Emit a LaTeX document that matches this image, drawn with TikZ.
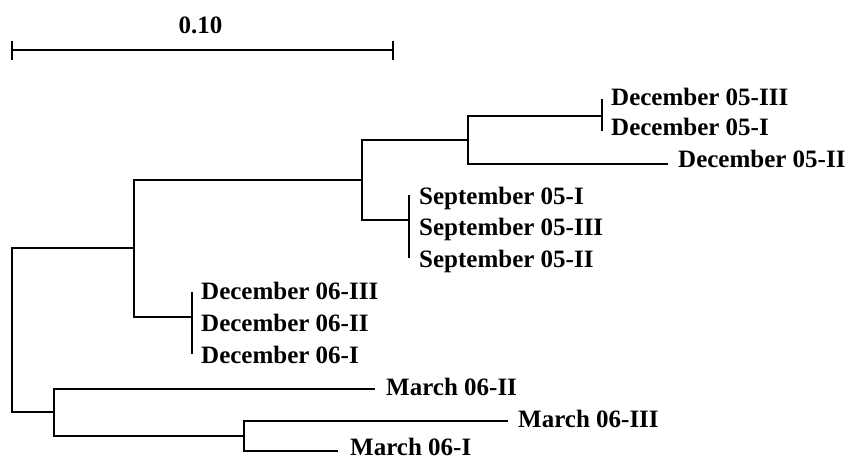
\documentclass[tikz,border=0pt]{standalone}
\usepackage{fontspec}
\setmainfont{Liberation Serif}
\begin{document}
\begin{tikzpicture}[x=1pt,y=-1pt,
  branch/.style={line width=1.8pt,black},
  lbl/.style={font=\fontsize{25}{30}\selectfont\bfseries,inner sep=0pt,anchor=base west}]
\useasboundingbox (0,0) rectangle (847,461);
% scale bar
\coordinate (sb1) at (12,50);
\coordinate (sb2) at (393,50);
\draw[branch] (sb1) -- (sb2);
\draw[branch] ([yshift=-10pt]sb1) -- ([yshift=9pt]sb1);
\draw[branch] ([yshift=-10pt]sb2) -- ([yshift=9pt]sb2);
\node[lbl,anchor=base] (scl) at (200.5,33) {0.10};
% internal nodes
\coordinate (root) at (12,330);
\coordinate (A) at (134,248);
\coordinate (L) at (54,412);
\coordinate (B) at (362,180);
\coordinate (D6) at (192,317);
\coordinate (C) at (468,140);
\coordinate (S5) at (409,220);
\coordinate (D5) at (602,116);
\coordinate (N) at (244,436);
% tips
\coordinate (d5a) at (602,99);
\coordinate (d5b) at (602,131);
\coordinate (d5c) at (668,164);
\coordinate (s5a) at (409,195);
\coordinate (s5c) at (409,258);
\coordinate (d6a) at (192,292);
\coordinate (d6c) at (192,354);
\coordinate (m2) at (375,389);
\coordinate (m3) at (508,421);
\coordinate (m1) at (338,451);
% branches
\draw[branch] (root) |- (A);
\draw[branch] (root) |- (L);
\draw[branch] (A) |- (B);
\draw[branch] (A) |- (D6);
\draw[branch] (B) |- (C);
\draw[branch] (B) |- (S5);
\draw[branch] (C) |- (D5);
\draw[branch] (C) |- (d5c);
\draw[branch] (L) |- (m2);
\draw[branch] (L) |- (N);
\draw[branch] (N) |- (m3);
\draw[branch] (N) |- (m1);
\draw[branch] (d5a) -- (d5b);
\draw[branch] (s5a) -- (s5c);
\draw[branch] (d6a) -- (d6c);
% labels
\node[lbl] (t1) at (611,105.5) {December 05-III};
\node[lbl] (t2) at (611,135) {December 05-I};
\node[lbl] (t3) at (678,167) {December 05-II};
\node[lbl] (t4) at (419,204) {September 05-I};
\node[lbl] (t5) at (419,235) {September 05-III};
\node[lbl] (t6) at (419,267) {September 05-II};
\node[lbl] (t7) at (201,299) {December 06-III};
\node[lbl] (t8) at (201,331) {December 06-II};
\node[lbl] (t9) at (201,363) {December 06-I};
\node[lbl] (t10) at (386,395) {March 06-II};
\node[lbl] (t11) at (518,427) {March 06-III};
\node[lbl] (t12) at (350,455) {March 06-I};
\end{tikzpicture}
\end{document}
